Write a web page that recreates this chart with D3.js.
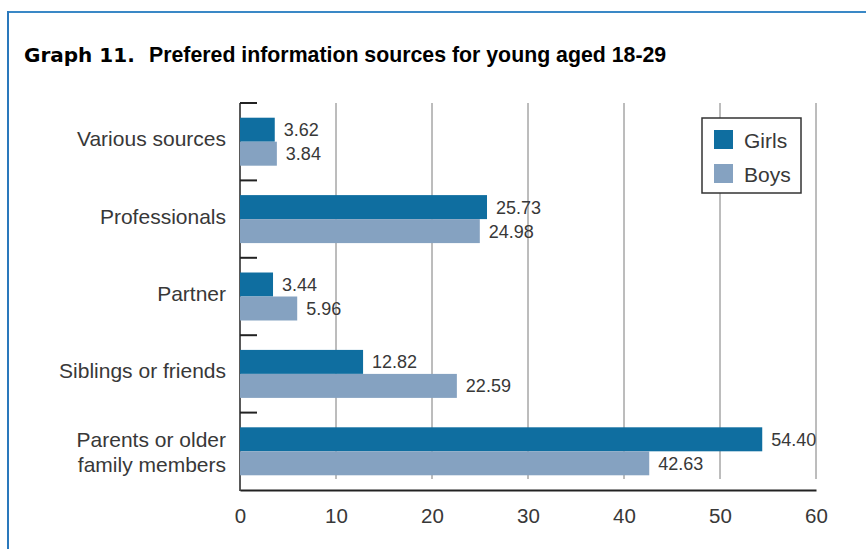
<!DOCTYPE html>
<html>
<head>
<meta charset="utf-8">
<script src="https://cdn.jsdelivr.net/npm/d3@7"></script>
<style>
  html, body { margin: 0; padding: 0; background: #fff; }
  svg { display: block; }
  text { font-family: "Liberation Sans", Arial, Helvetica, sans-serif; }
</style>
</head>
<body>
<svg id="chart" width="866" height="549"></svg>
<script>
// Preferred information sources, young people aged 18-29 (percent)
const categories = [
  "Various sources",
  "Professionals",
  "Partner",
  "Siblings or friends",
  "Parents or older\nfamily members"
];
const seriesNames = ["Girls", "Boys"];
const girls = [3.62, 25.73, 3.44, 12.82, 54.40];
const boys  = [3.84, 24.98, 5.96, 22.59, 42.63];
const xTicks = [0, 10, 20, 30, 40, 50, 60];

const colors = { Girls: "#0f6ea0", Boys: "#85a2c1" };
const textColor = "#383838";

const svg = d3.select("#chart");

// Frame lines (top and left)
svg.append("line").attr("x1", 7).attr("x2", 866).attr("y1", 12).attr("y2", 12)
  .attr("stroke", "#3a88c6").attr("stroke-width", 2);
svg.append("line").attr("x1", 8).attr("x2", 8).attr("y1", 11).attr("y2", 549)
  .attr("stroke", "#2a78bc").attr("stroke-width", 2);

// Title
const title = svg.append("text").attr("x", 24).attr("y", 62).attr("fill", "#000");
title.append("tspan")
  .style("font-family", "'DejaVu Sans', sans-serif")
  .attr("font-weight", "bold").attr("font-size", 20)
  .text("Graph 11.");
title.append("tspan").attr("x", 149)
  .attr("font-weight", "bold").attr("font-size", 21.3)
  .text("Prefered information sources for young aged 18-29");

// Scales
const x = d3.scaleLinear().domain([0, 60]).range([240, 816]);
const y = d3.scaleBand().domain(categories).range([103, 490])
  .paddingInner(0.38).paddingOuter(0.19);
const ySub = d3.scaleBand().domain(seriesNames).range([0, y.bandwidth()]);

const gridTop = 103, gridBottom = 479, axisY = 490;

// Vertical gridlines
svg.append("g").selectAll("line")
  .data(xTicks.filter(d => d > 0))
  .join("line")
  .attr("x1", d => x(d)).attr("x2", d => x(d))
  .attr("y1", gridTop).attr("y2", gridBottom)
  .attr("stroke", "#7a7a7a").attr("stroke-width", 1);

// Bottom axis
const xAxis = d3.axisBottom(x).tickValues(xTicks).tickSize(0).tickPadding(18);
const gx = svg.append("g").attr("transform", `translate(0,${axisY})`).call(xAxis);
gx.select(".domain").attr("stroke", "#222").attr("stroke-width", 2);
gx.selectAll(".tick text")
  .attr("font-size", 20.5).attr("fill", textColor)
  .style("font-family", "'Liberation Sans', Arial, sans-serif");

// Left axis with ticks at band boundaries
svg.append("line").attr("x1", x(0)).attr("x2", x(0))
  .attr("y1", gridTop).attr("y2", axisY + 1)
  .attr("stroke", "#222").attr("stroke-width", 1.5);
const boundaries = categories.map(c => y(c) - y.step() * y.paddingInner() / 2);
svg.append("g").selectAll("line")
  .data(boundaries)
  .join("line")
  .attr("x1", x(0)).attr("x2", x(0) + 17)
  .attr("y1", d => d).attr("y2", d => d)
  .attr("stroke", "#222").attr("stroke-width", 2);

// Category labels
const catLabels = svg.append("g").selectAll("text")
  .data(categories)
  .join("text")
  .attr("text-anchor", "end")
  .attr("font-size", 21)
  .attr("fill", textColor);
catLabels.each(function (d) {
  const lines = d.split("\n");
  const cy = y(d) + y.bandwidth() / 2;
  const base = cy + 4.5 - (lines.length - 1) * 9;
  d3.select(this).selectAll("tspan")
    .data(lines)
    .join("tspan")
    .attr("x", 226)
    .attr("y", (l, i) => base + i * 25)
    .text(l => l);
});

// Bars
const rows = categories.map((c, i) => ({
  cat: c,
  values: [
    { series: "Girls", value: girls[i] },
    { series: "Boys", value: boys[i] }
  ]
}));
const groups = svg.append("g").selectAll("g")
  .data(rows)
  .join("g")
  .attr("transform", d => `translate(0,${y(d.cat)})`);

groups.selectAll("rect")
  .data(d => d.values)
  .join("rect")
  .attr("x", x(0))
  .attr("y", d => ySub(d.series))
  .attr("width", d => x(d.value) - x(0))
  .attr("height", ySub.bandwidth())
  .attr("fill", d => colors[d.series]);

const fmt = d3.format(".2f");
groups.selectAll("text")
  .data(d => d.values)
  .join("text")
  .attr("x", d => x(d.value) + 9)
  .attr("y", d => ySub(d.series) + ySub.bandwidth() / 2)
  .attr("dy", "0.36em")
  .attr("font-size", 18)
  .attr("fill", textColor)
  .text(d => fmt(d.value));

// Legend
const legend = svg.append("g").attr("transform", "translate(702,118)");
legend.append("rect").attr("width", 99).attr("height", 75)
  .attr("fill", "#fff").attr("stroke", "#333").attr("stroke-width", 1.5);
const items = legend.selectAll("g.item")
  .data(seriesNames)
  .join("g")
  .attr("class", "item")
  .attr("transform", (d, i) => `translate(12,${12 + i * 34})`);
items.append("rect").attr("width", 19).attr("height", 19)
  .attr("fill", d => colors[d]);
items.append("text").attr("x", 30).attr("y", 18)
  .attr("font-size", 21).attr("fill", textColor)
  .text(d => d);
</script>
</body>
</html>
